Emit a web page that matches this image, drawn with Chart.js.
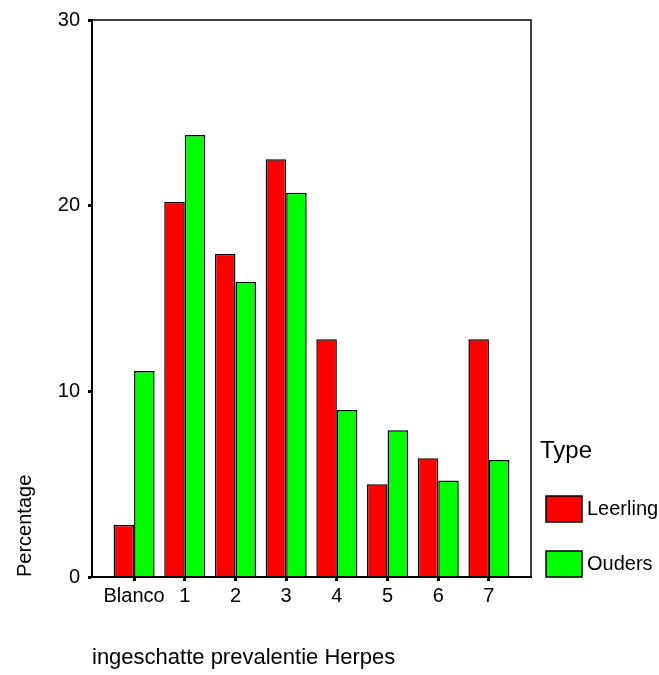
<!DOCTYPE html>
<html>
<head>
<meta charset="utf-8">
<script src="https://cdn.jsdelivr.net/npm/chart.js@4/dist/chart.umd.min.js"></script>
<style>
  body { margin: 0; background: #fff; }
  #wrap { width: 659px; height: 675px; }
</style>
</head>
<body>
<div id="wrap"><canvas id="chart" width="659" height="675"></canvas></div>
<script>
// categories on the x axis
const categories = ['Blanco', '1', '2', '3', '4', '5', '6', '7'];
// percentages
const leerling = [2.8, 20.2, 17.4, 22.5, 12.8, 5.0, 6.4, 12.8];
const ouders = [11.1, 23.8, 15.9, 20.7, 9.0, 7.9, 5.2, 6.3];
const yTicks = [0, 10, 20, 30];
const seriesNames = ['Leerling', 'Ouders'];
const seriesColors = ['#ff0000', '#00ff00'];

const fontFamily = "'Liberation Sans', Arial, sans-serif";
Chart.defaults.font.family = fontFamily;
Chart.defaults.color = '#000';

// box round the plot area
const framePlugin = {
  id: 'frame',
  afterDraw(chart) {
    const { ctx, chartArea: a } = chart;
    ctx.save();
    ctx.strokeStyle = '#000';
    ctx.lineWidth = 1.5;
    ctx.strokeRect(a.left, a.top, a.right - a.left, a.bottom - a.top);
    ctx.restore();
  }
};

// legend on the right, like the spss one
const legendPlugin = {
  id: 'typeLegend',
  afterDraw(chart) {
    const { ctx, chartArea: a } = chart;
    const x = a.right + 15;
    ctx.save();
    ctx.fillStyle = '#000';
    ctx.textBaseline = 'middle';
    ctx.textAlign = 'left';
    ctx.font = '24px ' + fontFamily;
    ctx.fillText('Type', a.right + 9, a.bottom - 126);
    chart.data.datasets.forEach((ds, i) => {
      const boxBottom = a.bottom - (chart.data.datasets.length - 1 - i) * 55;
      ctx.fillStyle = ds.backgroundColor;
      ctx.fillRect(x, boxBottom - 26, 36, 26);
      ctx.strokeStyle = '#000';
      ctx.lineWidth = 1.5;
      ctx.strokeRect(x, boxBottom - 26, 36, 26);
      ctx.fillStyle = '#000';
      ctx.font = '20px ' + fontFamily;
      ctx.fillText(ds.label, x + 41, boxBottom - 13);
    });
    ctx.restore();
  }
};

const datasets = [leerling, ouders].map((vals, s) => ({
  label: seriesNames[s],
  data: vals.map((v, i) => ({ x: i, y: v })),
  backgroundColor: seriesColors[s],
  borderColor: '#000',
  borderWidth: 1.5,
  categoryPercentage: 0.81,
  barPercentage: 1.0
}));

new Chart(document.getElementById('chart'), {
  type: 'bar',
  data: { datasets: datasets },
  plugins: [framePlugin, legendPlugin],
  options: {
    responsive: false,
    animation: false,
    layout: { padding: { left: 0, right: 128, top: 18, bottom: 0 } },
    plugins: { legend: { display: false }, tooltip: { enabled: false } },
    scales: {
      x: {
        type: 'linear',
        min: -0.83,
        max: 7.83,
        offset: false,
        afterBuildTicks: (scale) => { scale.ticks = categories.map((c, i) => ({ value: i })); },
        afterFit: (scale) => { scale.height = 98; },
        ticks: {
          autoSkip: false,
          maxRotation: 0,
          padding: 3,
          font: { size: 20 },
          color: '#000',
          callback: (v) => categories[v]
        },
        grid: { offset: false, drawOnChartArea: false, tickLength: 4, tickWidth: 3, tickColor: '#000' },
        border: { color: '#000', width: 2 },
        title: {
          display: true,
          text: 'ingeschatte prevalentie Herpes',
          align: 'start',
          font: { size: 22 },
          color: '#000',
          padding: { top: 0, bottom: 4 }
        }
      },
      y: {
        min: 0,
        max: 30,
        afterBuildTicks: (scale) => { scale.ticks = yTicks.map(v => ({ value: v })); },
        afterFit: (scale) => { scale.width = 92; },
        ticks: { padding: 8, font: { size: 20 }, color: '#000' },
        grid: { drawOnChartArea: false, tickLength: 4, tickWidth: 3, tickColor: '#000' },
        border: { color: '#000', width: 2 },
        title: {
          display: true,
          text: 'Percentage',
          align: 'start',
          font: { size: 20 },
          color: '#000',
          padding: { top: 13, bottom: 0 }
        }
      }
    }
  }
});
</script>
</body>
</html>
